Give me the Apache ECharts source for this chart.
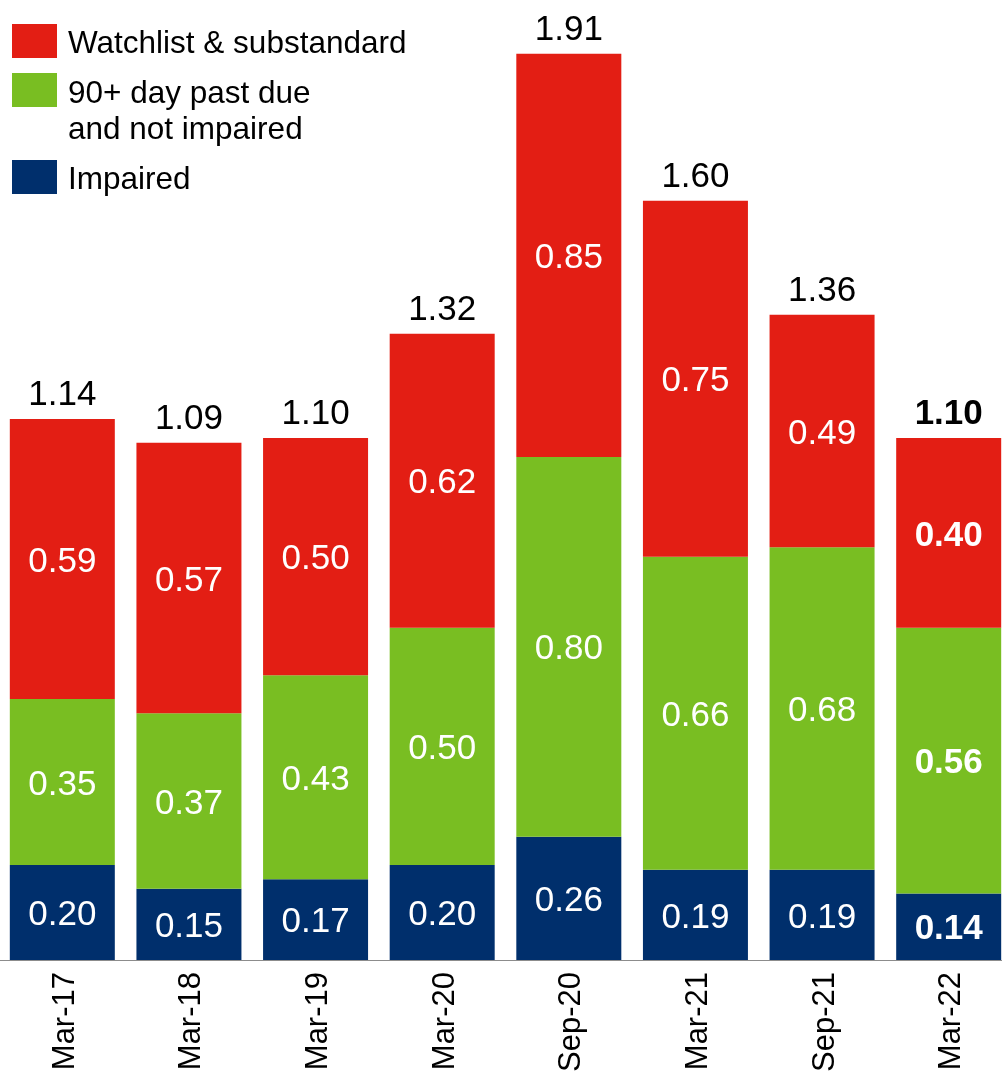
<!DOCTYPE html>
<html>
<head>
<meta charset="utf-8">
<script src="https://cdn.jsdelivr.net/npm/echarts@6/dist/echarts.min.js"></script>
<style>
  html, body { margin: 0; padding: 0; background: #fff; }
  #chart { width: 1002px; height: 1074px; }
</style>
</head>
<body>
<div id="chart"></div>
<script>
// Loan quality breakdown by reporting period
const categories = ['Mar-17', 'Mar-18', 'Mar-19', 'Mar-20', 'Sep-20', 'Mar-21', 'Sep-21', 'Mar-22'];
const impaired = [0.20, 0.15, 0.17, 0.20, 0.26, 0.19, 0.19, 0.14];
const pastDue90 = [0.35, 0.37, 0.43, 0.50, 0.80, 0.66, 0.68, 0.56];
const watchlist = [0.59, 0.57, 0.50, 0.62, 0.85, 0.75, 0.49, 0.40];

const seriesNames = ['Watchlist & substandard', '90+ day past due and not impaired', 'Impaired'];
const legendLines = [['Watchlist & substandard'], ['90+ day past due', 'and not impaired'], ['Impaired']];
const colors = { red: '#E31E14', green: '#79BE22', navy: '#002F6C' };
const FONT = '"Liberation Sans", Arial, Helvetica, sans-serif';
const latest = categories.length - 1;

// stack totals shown above each column
const totals = categories.map((_, i) => impaired[i] + pastDue90[i] + watchlist[i]);

function segData(values) {
  return values.map((v, i) => ({
    value: v,
    label: { fontWeight: i === latest ? 'bold' : 'normal' }
  }));
}

function segSeries(name, values, color) {
  return {
    name: name,
    type: 'bar',
    stack: 'total',
    barWidth: 105,
    itemStyle: { color: color },
    label: {
      show: true,
      position: 'inside',
      offset: [0, 3],
      color: '#fff',
      fontFamily: FONT,
      fontSize: 35,
      formatter: p => p.value.toFixed(2)
    },
    emphasis: { disabled: true },
    data: segData(values)
  };
}

// one legend block per series; a spacer line nudges the first text line
// a little below the swatch centre
function legendFor(idx, top) {
  const lines = legendLines[idx];
  const spacer = lines.length > 1 ? 44 : 6;
  return {
    data: [seriesNames[idx]],
    left: 12,
    top: top,
    padding: 0,
    itemWidth: 45,
    itemHeight: 34,
    icon: 'rect',
    selectedMode: false,
    formatter: () => '{e| }\n' + lines.map(t => '{n|' + t + '}').join('\n'),
    textStyle: {
      fontFamily: FONT,
      fontSize: 31.5,
      color: '#000',
      padding: [0, 0, 0, 6],
      rich: {
        e: { fontFamily: FONT, fontSize: 4, lineHeight: spacer },
        n: { fontFamily: FONT, fontSize: 31.5, color: '#000', lineHeight: 36 }
      }
    }
  };
}

const chart = echarts.init(document.getElementById('chart'), null, { renderer: 'canvas' });

chart.setOption({
  animation: false,
  backgroundColor: '#fff',
  legend: [legendFor(0, 21), legendFor(1, 52), legendFor(2, 157)],
  grid: { left: -1, width: 1013, top: 11, bottom: 114, outerBoundsMode: 'none', containLabel: false },
  xAxis: {
    type: 'category',
    data: categories,
    axisLine: { show: true, lineStyle: { color: '#8c8c8c', width: 1 } },
    axisTick: { show: false },
    axisLabel: {
      rotate: 90,
      margin: 12,
      color: '#000',
      fontFamily: FONT,
      fontSize: 31,
      interval: 0,
      formatter: v => '{c|' + v + '}',
      rich: {
        c: { fontFamily: FONT, fontSize: 31, color: '#000', padding: [6, 0, 0, 0] }
      }
    }
  },
  yAxis: {
    type: 'value',
    min: 0,
    max: 2,
    show: false,
    splitLine: { show: false }
  },
  series: [
    segSeries(seriesNames[2], impaired, colors.navy),
    segSeries(seriesNames[1], pastDue90, colors.green),
    segSeries(seriesNames[0], watchlist, colors.red),
    {
      name: 'Total',
      type: 'scatter',
      symbolSize: 0,
      silent: true,
      itemStyle: { opacity: 1 },
      label: {
        show: true,
        position: 'top',
        distance: 6,
        color: '#000',
        fontFamily: FONT,
        fontSize: 35,
        formatter: p => p.value.toFixed(2)
      },
      data: totals.map((v, i) => ({
        value: v,
        label: { fontWeight: i === latest ? 'bold' : 'normal' }
      }))
    }
  ]
});
</script>
</body>
</html>
